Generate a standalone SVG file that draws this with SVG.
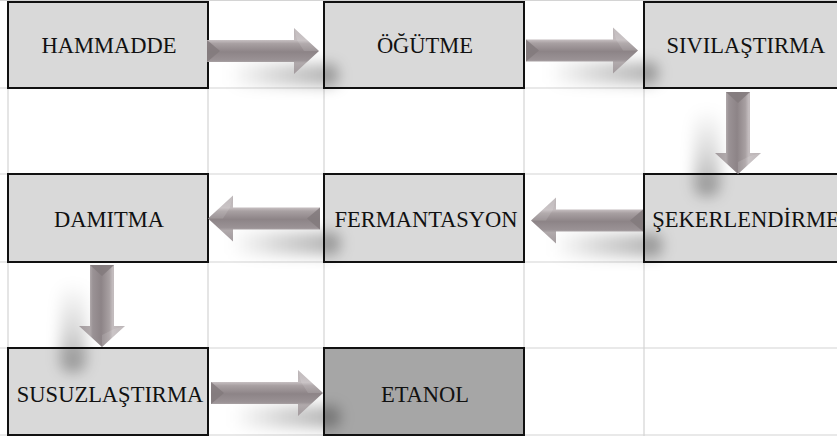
<svg xmlns="http://www.w3.org/2000/svg" width="837" height="436" viewBox="0 0 837 436">
  <style>
    .grid { stroke: #d4d4d4; stroke-width: 1.2; fill: none; }
    .box { fill: #d9d9d9; stroke: #111; stroke-width: 2; }
    .box.final { fill: #a6a6a6; }
    .label { font-family: "Liberation Serif", "Times New Roman", serif; font-size: 22.5px; fill: #111; text-anchor: middle; }
    .arrow { fill: url(#arrowShade); }
    .bevel { fill: #837a7d; opacity: 0.85; }
    .facet { fill: #ffffff; opacity: 0.12; }
    .shadow { filter: url(#soft); }
  </style>
  <defs>
    <!-- cylindrical shading across the arrow body (local space, y from -23 to 23) -->
    <linearGradient id="arrowShade" gradientUnits="userSpaceOnUse" x1="0" y1="-23" x2="0" y2="23">
      <stop offset="0" stop-color="#b9b2b4"/>
      <stop offset="0.27" stop-color="#c3bcbe"/>
      <stop offset="0.34" stop-color="#a8a0a2"/>
      <stop offset="0.52" stop-color="#8d8487"/>
      <stop offset="0.70" stop-color="#9a9295"/>
      <stop offset="0.76" stop-color="#b0a9ab"/>
      <stop offset="1" stop-color="#a39b9e"/>
    </linearGradient>
    <linearGradient id="shadowH" x1="0" y1="0" x2="1" y2="0">
      <stop offset="0" stop-color="#000" stop-opacity="0"/>
      <stop offset="0.45" stop-color="#000" stop-opacity="0.16"/>
      <stop offset="1" stop-color="#000" stop-opacity="0.32"/>
    </linearGradient>
    <linearGradient id="shadowV" x1="0" y1="0" x2="0" y2="1">
      <stop offset="0" stop-color="#000" stop-opacity="0"/>
      <stop offset="0.5" stop-color="#000" stop-opacity="0.14"/>
      <stop offset="1" stop-color="#000" stop-opacity="0.32"/>
    </linearGradient>
    <filter id="soft" x="-60%" y="-60%" width="220%" height="220%">
      <feGaussianBlur stdDeviation="7"/>
    </filter>
    <!-- horizontal block arrow, tail at origin, pointing +x -->
    <g id="arrowLong">
      <path class="arrow" d="M0,-11 H87 V-23 L112,0 L87,23 V11 H0 Z"/>
      <path class="facet" d="M87,-23 L112,0 L97,0 L90,-11 Z"/>
      <path class="bevel" d="M0,-11 L13,0 L0,11 Z"/>
    </g>
    <!-- shorter arrow for the vertical steps -->
    <g id="arrowShort">
      <path class="arrow" d="M0,-12 H61 V-23 L82,0 L61,23 V12 H0 Z"/>
      <path class="facet" d="M61,-23 L82,0 L70,0 L64,-12 Z"/>
      <path class="bevel" d="M0,-12 L11,0 L0,12 Z"/>
    </g>
  </defs>

  <rect width="837" height="436" fill="#ffffff"/>

  <!-- sheet grid -->
  <g id="grid" class="grid">
    <line x1="0" y1="0.5" x2="837" y2="0.5"/>
    <line x1="0" y1="88" x2="837" y2="88"/>
    <line x1="0" y1="174" x2="837" y2="174"/>
    <line x1="0" y1="262" x2="837" y2="262"/>
    <line x1="0" y1="348" x2="837" y2="348"/>
    <line x1="0" y1="435" x2="837" y2="435"/>
    <line x1="8" y1="0" x2="8" y2="436"/>
    <line x1="208" y1="0" x2="208" y2="436"/>
    <line x1="324" y1="0" x2="324" y2="436"/>
    <line x1="524" y1="0" x2="524" y2="436"/>
    <line x1="644" y1="0" x2="644" y2="436"/>
  </g>

  <!-- process steps -->
  <g id="hammadde">
    <rect class="box" x="8" y="2" width="200" height="86"/>
    <text class="label" x="109" y="53">HAMMADDE</text>
  </g>
  <g id="ogutme">
    <rect class="box" x="324" y="2" width="200" height="86"/>
    <text class="label" x="425" y="53">ÖĞÜTME</text>
  </g>
  <g id="sivilastirma">
    <rect class="box" x="644" y="2" width="210" height="86"/>
    <text class="label" x="746" y="53">SIVILAŞTIRMA</text>
  </g>
  <g id="sekerlendirme">
    <rect class="box" x="644" y="174" width="210" height="88"/>
    <text class="label" x="746" y="227">ŞEKERLENDİRME</text>
  </g>
  <g id="fermantasyon">
    <rect class="box" x="324" y="174" width="200" height="88"/>
    <text class="label" x="426" y="227">FERMANTASYON</text>
  </g>
  <g id="damitma">
    <rect class="box" x="8" y="174" width="200" height="88"/>
    <text class="label" x="109" y="227">DAMITMA</text>
  </g>
  <g id="susuzlastirma">
    <rect class="box" x="8" y="348" width="200" height="87"/>
    <text class="label" x="110" y="402">SUSUZLAŞTIRMA</text>
  </g>
  <g id="etanol">
    <rect class="box final" x="324" y="348" width="200" height="87"/>
    <text class="label" x="425" y="402">ETANOL</text>
  </g>

  <!-- connectors: soft drop shadows first, then the block arrows -->
  <g id="connectors">
    <g id="shadows">
      <rect class="shadow" x="228" y="64" width="110" height="22" rx="8" fill="url(#shadowH)"/>
      <rect class="shadow" x="548" y="62" width="110" height="22" rx="8" fill="url(#shadowH)"/>
      <rect class="shadow" x="694" y="108" width="26" height="88" rx="10" fill="url(#shadowV)"/>
      <rect class="shadow" x="552" y="234" width="110" height="23" rx="8" fill="url(#shadowH)"/>
      <rect class="shadow" x="230" y="232" width="110" height="23" rx="8" fill="url(#shadowH)"/>
      <rect class="shadow" x="60" y="282" width="26" height="90" rx="10" fill="url(#shadowV)"/>
      <rect class="shadow" x="232" y="406" width="108" height="22" rx="8" fill="url(#shadowH)"/>
    </g>
    <use href="#arrowLong" transform="translate(207,51)"/>
    <use href="#arrowLong" transform="translate(526,50.5)"/>
    <use href="#arrowShort" transform="translate(738,92) rotate(90)"/>
    <use href="#arrowLong" transform="translate(643,220.5) scale(-1,1)"/>
    <use href="#arrowLong" transform="translate(320,218.5) scale(-1,1)"/>
    <use href="#arrowShort" transform="translate(102,265) rotate(90)"/>
    <use href="#arrowLong" transform="translate(211,393)"/>
  </g>
</svg>
